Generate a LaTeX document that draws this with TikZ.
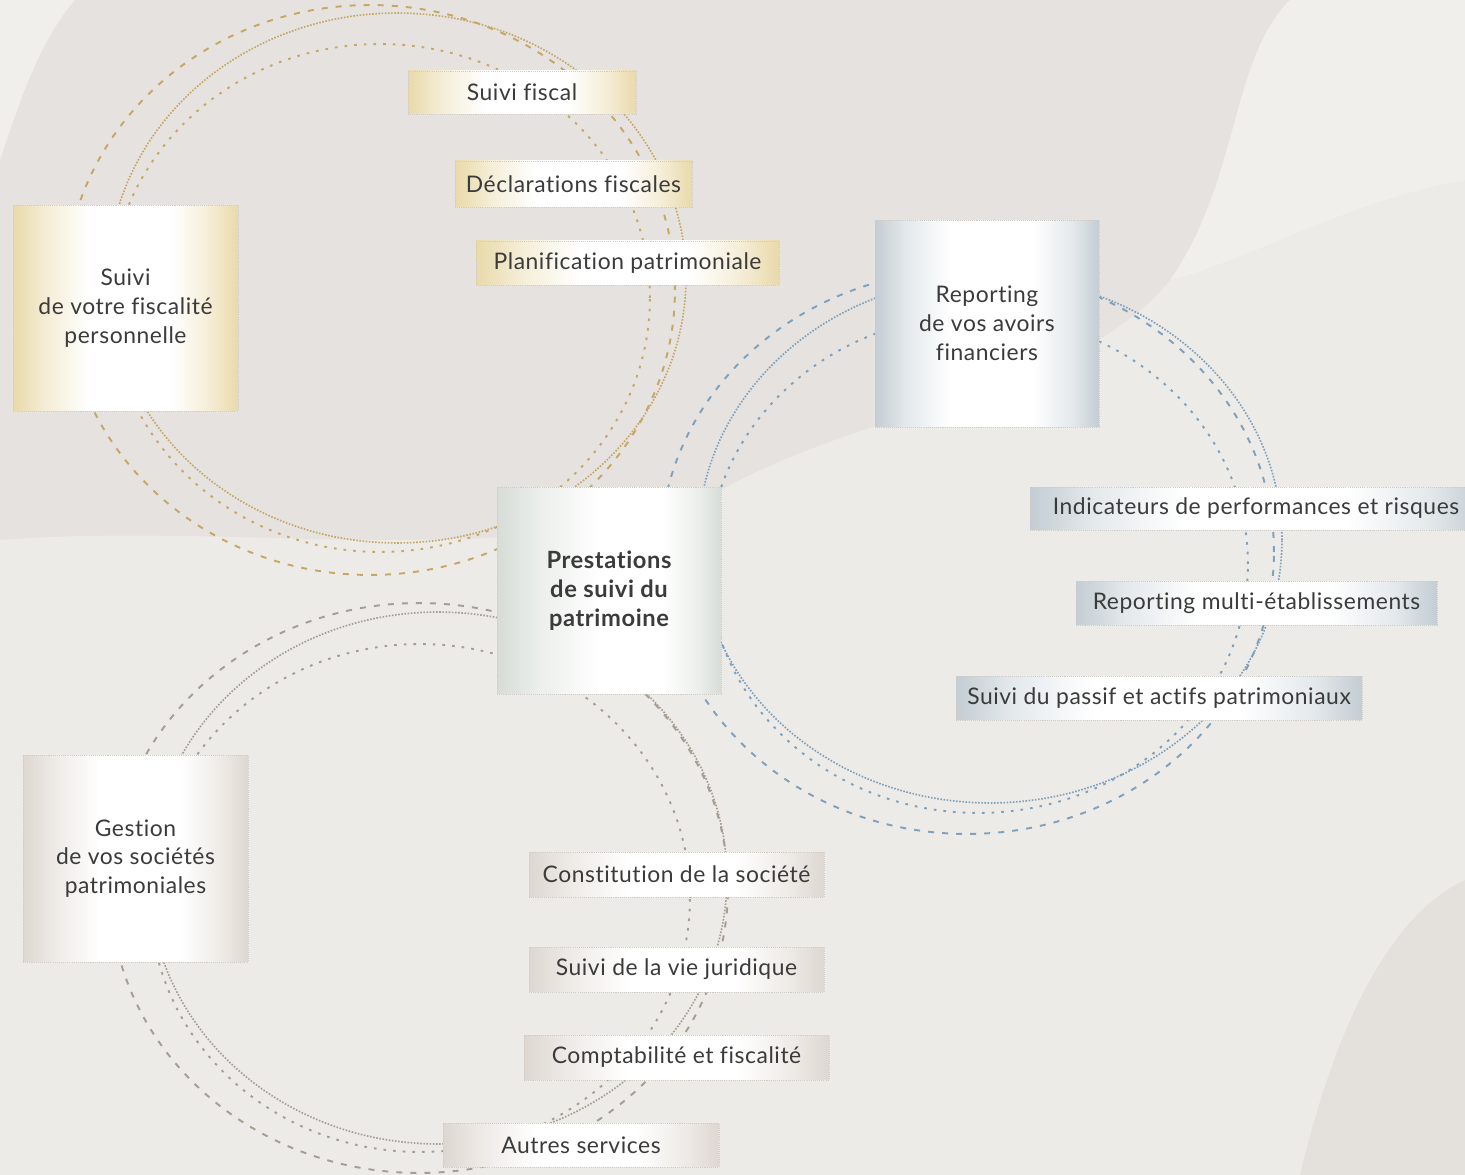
\documentclass[tikz,border=0pt]{standalone}
\usepackage{fontspec}
\setmainfont{Lato}[Ligatures=NoCommon, LetterSpace=2.5]
\definecolor{bgbase}{HTML}{E6E2DF}
\definecolor{bglight}{HTML}{EDEBE7}
\definecolor{bglighter}{HTML}{F1EFEB}
\definecolor{bgdark}{HTML}{E4E0DC}
\definecolor{goldL}{HTML}{C6A766}
\definecolor{blueL}{HTML}{7EA1BD}
\definecolor{grayL}{HTML}{A69E93}
\definecolor{goldE}{HTML}{E9DAAA}
\definecolor{goldM}{HTML}{F4ECD4}
\definecolor{blueE}{HTML}{C3CDD3}
\definecolor{blueM}{HTML}{E4E9EC}
\definecolor{cenE}{HTML}{D7DCD7}
\definecolor{cenM}{HTML}{EBEEEB}
\definecolor{grayE}{HTML}{DDD7D0}
\definecolor{grayM}{HTML}{EEEAE6}
\definecolor{boxline}{HTML}{CFCBC6}
\definecolor{txt}{HTML}{3B3B3B}
\pgfdeclarehorizontalshading{goldsh}{100bp}{color(0bp)=(goldE); color(25bp)=(goldE); color(32bp)=(goldM); color(42bp)=(white); color(60bp)=(white); color(69bp)=(goldM); color(75bp)=(goldE); color(100bp)=(goldE)}
\pgfdeclarehorizontalshading{bluesh}{100bp}{color(0bp)=(blueE); color(25bp)=(blueE); color(32bp)=(blueM); color(42bp)=(white); color(60bp)=(white); color(69bp)=(blueM); color(75bp)=(blueE); color(100bp)=(blueE)}
\pgfdeclarehorizontalshading{censh}{100bp}{color(0bp)=(cenE); color(25bp)=(cenE); color(34bp)=(cenM); color(48bp)=(white); color(62bp)=(white); color(70bp)=(cenM); color(75bp)=(cenE); color(100bp)=(cenE)}
\pgfdeclarehorizontalshading{graysh}{100bp}{color(0bp)=(grayE); color(25bp)=(grayE); color(32bp)=(grayM); color(42bp)=(white); color(60bp)=(white); color(69bp)=(grayM); color(75bp)=(grayE); color(100bp)=(grayE)}
\begin{document}
\begin{tikzpicture}[x=0.02cm,y=-0.02cm,
  box/.style={draw=boxline, dash pattern=on 0.6pt off 0.6pt, line width=0.5pt, text=txt, align=center, inner sep=2pt, font=\fontsize{13}{16.4}\selectfont},
  goldbox/.style={box, shading=goldsh},
  bluebox/.style={box, shading=bluesh},
  cenbox/.style={box, shading=censh},
  graybox/.style={box, shading=graysh},
  dashC/.style={line width=1.1pt, dash pattern=on 3.4pt off 4.6pt},
  sparseC/.style={line width=1.1pt, dash pattern=on 1.5pt off 4pt},
  fineC/.style={line width=0.95pt, dash pattern=on 0.9pt off 0.9pt}
]
\useasboundingbox (0,0) rectangle (1465,1175);
\begin{scope}
\clip (0,0) rectangle (1465,1175);
% background
\fill[bgbase] (0,0) rectangle (1465,1175);
\fill[bglight] (0,540) .. controls (250,520) and (560,580) .. (740,480)
  .. controls (900,400) and (1080,390) .. (1170,280)
  .. controls (1240,180) and (1230,60) .. (1290,0) -- (1465,0) -- (1465,1175) -- (0,1175) -- cycle;
\fill[bglighter] (1290,0) .. controls (1230,60) and (1240,180) .. (1170,280)
  .. controls (1250,260) and (1350,200) .. (1465,180) -- (1465,0) -- cycle;
\fill[bglighter] (0,0) -- (75,0) .. controls (40,40) and (20,100) .. (0,160) -- cycle;
\fill[bgdark] (1465,880) .. controls (1380,920) and (1330,1050) .. (1300,1175) -- (1465,1175) -- cycle;
% gold circles
\draw[goldL, dashC] (370,290) ellipse [x radius=6.1cm, y radius=5.7cm];
\draw[goldL, fineC] (397,278) ellipse [x radius=5.78cm, y radius=5.3cm];
\draw[goldL, sparseC] (380,298) ellipse [x radius=5.4cm, y radius=5.08cm];
% blue circles
\draw[blueL, dashC] (967,552) ellipse [x radius=6.14cm, y radius=5.64cm];
\draw[blueL, fineC] (990,540) ellipse [x radius=5.84cm, y radius=5.26cm];
\draw[blueL, sparseC] (978,564) ellipse [x radius=5.4cm, y radius=4.98cm];
% gray circles
\draw[grayL, dashC] (419,888) ellipse [x radius=6.18cm, y radius=5.7cm];
\draw[grayL, fineC] (438,878) ellipse [x radius=5.78cm, y radius=5.32cm];
\draw[grayL, sparseC] (420,898) ellipse [x radius=5.4cm, y radius=5.08cm];
% boxes
\node[goldbox, minimum width=4.5cm, minimum height=4.12cm] (fisc) at (125.5,308) {Suivi\\de votre fiscalité\\personnelle};
\node[goldbox, minimum width=4.56cm, minimum height=0.86cm] (sf) at (522,92.5) {Suivi fiscal};
\node[goldbox, minimum width=4.74cm, minimum height=0.92cm] (decl) at (573.5,184) {Déclarations fiscales};
\node[goldbox, minimum width=6.06cm, minimum height=0.88cm] (plan) at (627.5,263) {Planification patrimoniale};
\node[bluebox, minimum width=4.48cm, minimum height=4.14cm] (rep) at (987,323.5) {Reporting\\de vos avoirs\\financiers};
\node[cenbox, minimum width=4.48cm, minimum height=4.14cm, font=\fontsize{13.5}{16.6}\selectfont\bfseries] (cen) at (609,590.5) {Prestations\\de suivi du\\patrimoine};
\node[bluebox, minimum width=9.04cm, minimum height=0.86cm] (ind) at (1256,508.5) {Indicateurs de performances et risques};
\node[bluebox, minimum width=7.22cm, minimum height=0.88cm] (multi) at (1256.5,603) {Reporting multi-établissements};
\node[bluebox, minimum width=8.12cm, minimum height=0.88cm] (passif) at (1159,698) {Suivi du passif et actifs patrimoniaux};
\node[graybox, minimum width=4.5cm, minimum height=4.14cm] (gest) at (135.5,858.5) {Gestion\\de vos sociétés\\patrimoniales};
\node[graybox, minimum width=5.9cm, minimum height=0.9cm] (const) at (676.5,874.5) {Constitution de la société};
\node[graybox, minimum width=5.9cm, minimum height=0.9cm] (jur) at (676.5,969.5) {Suivi de la vie juridique};
\node[graybox, minimum width=6.1cm, minimum height=0.9cm] (compta) at (676.5,1057.5) {Comptabilité et fiscalité};
\node[graybox, minimum width=5.52cm, minimum height=0.88cm] (autres) at (581,1145) {Autres services};
\end{scope}
\end{tikzpicture}
\end{document}
